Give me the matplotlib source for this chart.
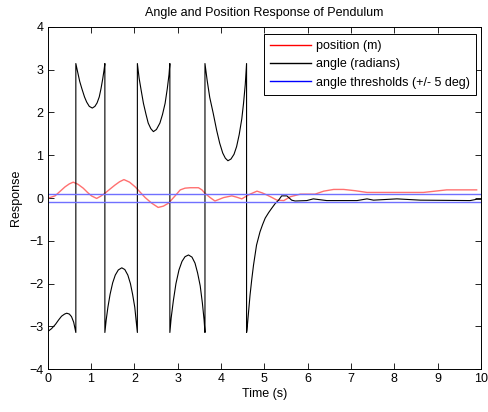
import matplotlib.pyplot as plt
from matplotlib.lines import Line2D

_FONT = ["Liberation Sans", "DejaVu Sans"]
_FS = 9

# position of cart (m)
pos_t = [0.0, 0.08, 0.17, 0.28, 0.40, 0.50, 0.59, 0.70, 0.82, 0.92, 1.01, 1.13,
         1.22, 1.32, 1.44, 1.55, 1.66, 1.76, 1.89, 2.02, 2.14, 2.25, 2.40, 2.55,
         2.67, 2.79, 2.94, 3.06, 3.17, 3.29, 3.48, 3.56, 3.63, 3.75, 3.86, 3.96,
         4.06, 4.25, 4.36, 4.48, 4.58, 4.67, 4.83, 4.95, 5.06, 5.18, 5.29, 5.45,
         5.60, 5.83, 6.17, 6.37, 6.60, 6.83, 7.10, 7.37, 8.67, 9.21, 9.90]
pos_v = [0.0, 0.02, 0.05, 0.15, 0.26, 0.33, 0.37, 0.32, 0.23, 0.13, 0.05, -0.01,
         0.04, 0.11, 0.21, 0.30, 0.38, 0.43, 0.37, 0.26, 0.13, 0.01, -0.12, -0.22,
         -0.19, -0.12, 0.05, 0.19, 0.23, 0.24, 0.24, 0.19, 0.11, 0.01, -0.07, -0.03,
         0.01, 0.05, 0.02, -0.02, 0.04, 0.09, 0.16, 0.12, 0.07, 0.01, -0.05, -0.06,
         0.03, 0.09, 0.09, 0.16, 0.20, 0.20, 0.17, 0.13, 0.13, 0.19, 0.19]

# pendulum angle (radians), wrapped to [-pi, pi]
ang_t = [0.0, 0.09, 0.18, 0.25, 0.32, 0.39, 0.44, 0.50, 0.55, 0.60, 0.65,
         0.65, 0.69, 0.74, 0.79, 0.85, 0.90, 0.96, 1.03, 1.09, 1.14, 1.19, 1.23,
         1.27, 1.30, 1.32,
         1.32, 1.35, 1.39, 1.44, 1.50, 1.56, 1.63, 1.71, 1.78, 1.85, 1.91, 1.96,
         2.01, 2.04, 2.07,
         2.07, 2.11, 2.16, 2.21, 2.27, 2.32, 2.38, 2.44, 2.51, 2.59, 2.65, 2.71,
         2.76, 2.80, 2.82,
         2.82, 2.85, 2.90, 2.96, 3.03, 3.10, 3.17, 3.25, 3.33, 3.40, 3.46, 3.52,
         3.57, 3.61, 3.63,
         3.63, 3.68, 3.74, 3.82, 3.90, 3.97, 4.04, 4.10, 4.16, 4.23, 4.30, 4.36,
         4.42, 4.48, 4.52, 4.56, 4.59,
         4.59, 4.60, 4.63, 4.67, 4.71, 4.75, 4.82, 4.90, 4.96, 5.02, 5.10, 5.17,
         5.25, 5.33, 5.40, 5.52, 5.63, 5.71, 5.98, 6.13, 6.44, 7.14, 7.37, 7.52,
         8.06, 8.60, 9.75, 9.90, 10.0]
ang_v = [-3.12, -3.05, -2.95, -2.85, -2.76, -2.71, -2.69, -2.71, -2.77, -2.90, -3.14,
         3.14, 2.95, 2.72, 2.55, 2.36, 2.24, 2.14, 2.10, 2.14, 2.22, 2.36, 2.55,
         2.78, 2.98, 3.14,
         -3.14, -2.85, -2.55, -2.25, -1.98, -1.80, -1.68, -1.63, -1.67, -1.80, -2.00, -2.25,
         -2.55, -2.85, -3.14,
         3.14, 2.80, 2.50, 2.21, 1.95, 1.75, 1.62, 1.55, 1.60, 1.75, 1.95, 2.21,
         2.55, 2.88, 3.14,
         -3.14, -2.80, -2.40, -2.00, -1.68, -1.48, -1.37, -1.33, -1.38, -1.52, -1.75, -2.05,
         -2.45, -2.85, -3.14,
         3.14, 2.75, 2.35, 1.98, 1.58, 1.28, 1.05, 0.93, 0.87, 0.91, 1.02, 1.20,
         1.48, 1.85, 2.21, 2.65, 3.14,
         -3.14, -3.08, -2.73, -2.27, -1.90, -1.57, -1.10, -0.79, -0.62, -0.47, -0.34, -0.24,
         -0.13, -0.05, 0.05, 0.05, -0.05, -0.07, -0.06, -0.02, -0.06, -0.06, -0.02, -0.05,
         -0.02, -0.05, -0.06, -0.03, -0.03]

thresh_deg = 5
thresh = thresh_deg * 3.14159265 / 180

labels = ["position (m)", "angle (radians)", "angle thresholds (+/- 5 deg)"]

fig = plt.figure(figsize=(4.89, 4.12), dpi=100)
ax = fig.add_axes([0.0975, 0.1036, 0.8861, 0.8316])

ax.plot(pos_t, pos_v, color="#ff7070", lw=1.0)
ax.plot(ang_t, ang_v, color="black", lw=0.8)
ax.axhline(thresh, color="#7070ff", lw=1.0)
ax.axhline(-thresh, color="#7070ff", lw=1.0)

ax.set_xlim(0, 10)
ax.set_ylim(-4, 4)
ax.set_xticks(range(0, 11))
ax.set_yticks(range(-4, 5))
ax.tick_params(direction="in", length=4, width=0.6, top=True, right=True,
               labelsize=_FS, pad=3)
for lab in ax.get_xticklabels() + ax.get_yticklabels():
    lab.set_family(_FONT)
for sp in ax.spines.values():
    sp.set_linewidth(0.7)

ax.set_title("Angle and Position Response of Pendulum", fontsize=_FS,
             family=_FONT, pad=8)
ax.set_xlabel("Time (s)", fontsize=_FS, family=_FONT, labelpad=2)
ax.set_ylabel("Response", fontsize=_FS, family=_FONT, labelpad=5)

handles = [Line2D([], [], color="red", lw=1.0),
           Line2D([], [], color="black", lw=1.0),
           Line2D([], [], color="blue", lw=1.0)]
leg = ax.legend(handles, labels, loc="upper right",
                bbox_to_anchor=(0.9878, 0.9787), borderaxespad=0,
                fancybox=False, framealpha=1, edgecolor="black",
                prop={"family": _FONT, "size": _FS}, handlelength=3.3,
                handletextpad=0.35, labelspacing=0.5, borderpad=0.5,
                handleheight=0.7)
leg.get_frame().set_linewidth(0.7)

fig.savefig("out.png", dpi=100)
